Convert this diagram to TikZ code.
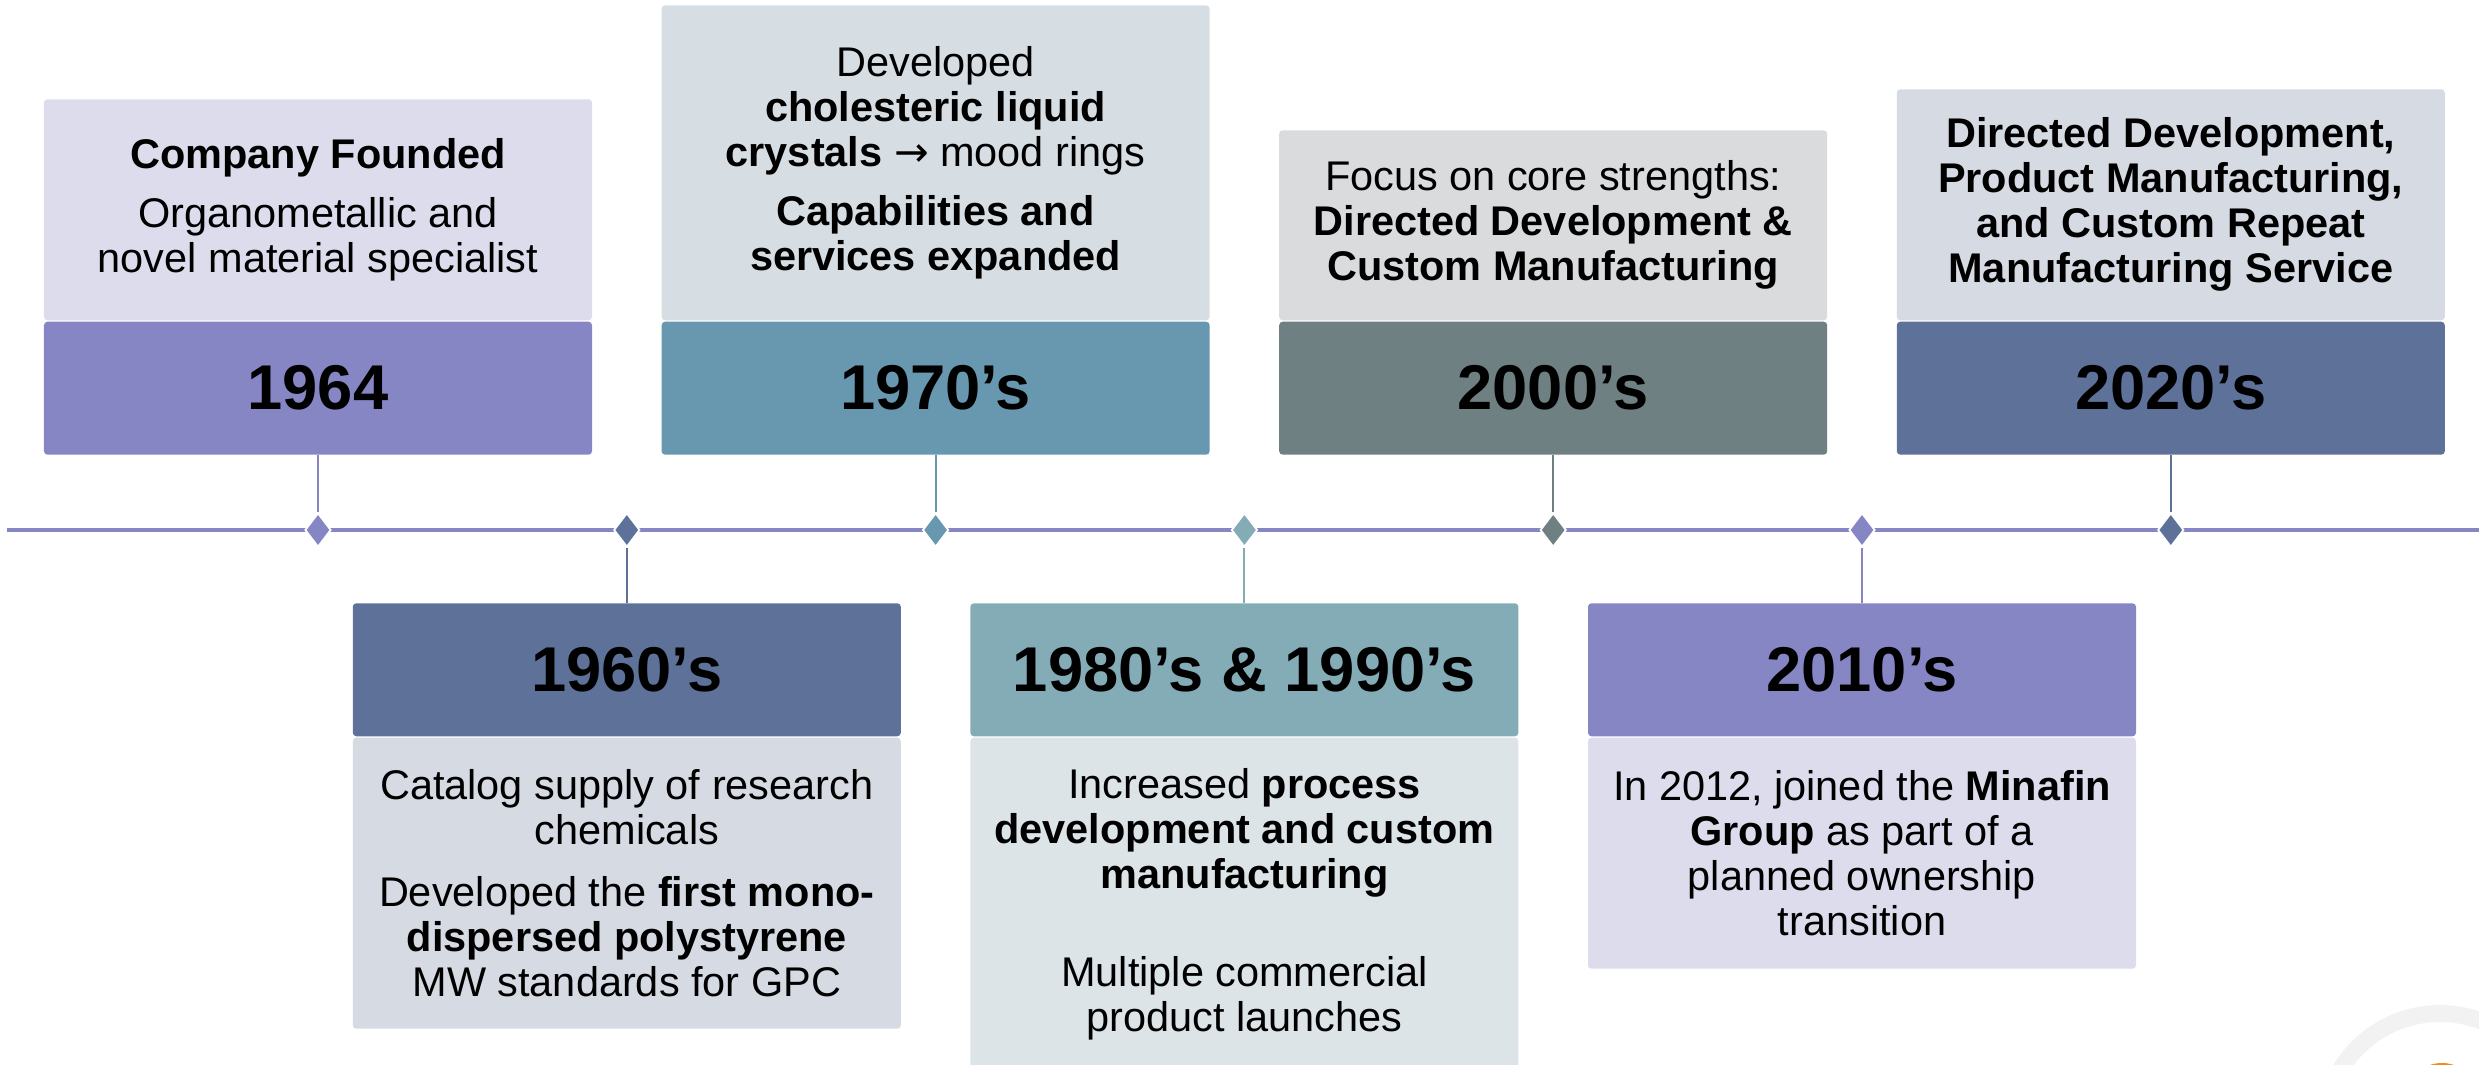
\documentclass[tikz,border=0pt]{standalone}
\usepackage{fontspec}
\setmainfont{Liberation Sans}
\newfontfamily\arrowfont{DejaVu Sans}
\usepackage{tikz}
\usetikzlibrary{shapes.geometric}

\definecolor{lavdark}{HTML}{8786C5}
\definecolor{lavlight}{HTML}{DCDCEC}
\definecolor{steeldark}{HTML}{6897B0}
\definecolor{steellight}{HTML}{D6DEE4}
\definecolor{greydark}{HTML}{6E8082}
\definecolor{greylight}{HTML}{D9DBDD}
\definecolor{slatedark}{HTML}{5E7299}
\definecolor{slatelight}{HTML}{D6DAE3}
\definecolor{tealdark}{HTML}{84ACB6}
\definecolor{teallight}{HTML}{DCE4E8}
\definecolor{ringgrey}{HTML}{F2F2F2}
\definecolor{logoorange}{HTML}{F08A1C}

\begin{document}
\begin{tikzpicture}[
    yearbox/.style={rectangle, rounded corners=1pt, minimum width=5.48cm, minimum height=1.33cm, inner sep=0pt, font=\fontsize{18}{20}\selectfont\bfseries},
    textbox/.style={rectangle, rounded corners=1pt, minimum width=5.48cm, inner sep=0pt, align=center, font=\fontsize{11.8}{12.8}\selectfont},
    gem/.style={diamond, draw=white, line width=0.5pt, minimum width=0.26cm, minimum height=0.34cm, inner sep=0pt},
    link/.style={line width=0.6pt},
    timeline/.style={line width=1.4pt, draw=lavdark}
]

    \useasboundingbox (0,0) rectangle (24.79,10.65);
    \clip (0,0) rectangle (24.79,10.65);

    % corner ring
    \draw[ringgrey, line width=0.17cm] (24.40,-0.65) circle (1.165);
    \fill[logoorange] (24.42,-0.35) circle (0.37);

    % upper boxes
    \node (y64) [yearbox, fill=lavdark, anchor=north] at (3.18,7.44) {1964};
    \node (t64) [textbox, fill=lavlight, minimum height=2.21cm, anchor=south] at (y64.north) {\textbf{Company Founded}\\[4pt] Organometallic and\\ novel material specialist};

    \node (y70) [yearbox, fill=steeldark, anchor=north] at (9.356,7.44) {1970's};
    \node (t70) [textbox, fill=steellight, minimum height=3.15cm, anchor=south] at (y70.north) {Developed\\ \textbf{cholesteric liquid}\\ \textbf{crystals} {\arrowfont →} mood rings\\[4pt] \textbf{Capabilities and}\\ \textbf{services expanded}};

    \node (y00) [yearbox, fill=greydark, anchor=north] at (15.532,7.44) {2000's};
    \node (t00) [textbox, fill=greylight, minimum height=1.90cm, anchor=south] at (y00.north) {Focus on core strengths:\\ \textbf{Directed Development \&}\\ \textbf{Custom Manufacturing}};

    \node (y20) [yearbox, fill=slatedark, anchor=north] at (21.708,7.44) {2020's};
    \node (t20) [textbox, fill=slatelight, minimum height=2.31cm, anchor=south] at (y20.north) {\textbf{Directed Development,}\\ \textbf{Product Manufacturing,}\\ \textbf{and Custom Repeat}\\ \textbf{Manufacturing Service}};

    % lower boxes
    \node (y60) [yearbox, fill=slatedark, anchor=south] at (6.268,3.28) {1960's};
    \node (t60) [textbox, fill=slatelight, minimum height=2.91cm, anchor=north] at (y60.south) {Catalog supply of research\\ chemicals\\[5pt] Developed the \textbf{first mono-}\\ \textbf{dispersed polystyrene}\\ MW standards for GPC};

    \node (y80) [yearbox, fill=tealdark, anchor=south] at (12.444,3.28) {1980's \& 1990's};
    \node (t80) [textbox, fill=teallight, minimum height=3.33cm, anchor=north] at (y80.south) {Increased \textbf{process}\\ \textbf{development and custom}\\ \textbf{manufacturing}\\[15pt] Multiple commercial\\ product launches};

    \node (y10) [yearbox, fill=lavdark, anchor=south] at (18.62,3.28) {2010's};
    \node (t10) [textbox, fill=lavlight, minimum height=2.31cm, anchor=north] at (y10.south) {In 2012, joined the \textbf{Minafin}\\ \textbf{Group} as part of a\\ planned ownership\\ transition};

    % timeline
    \coordinate (tl0) at (0.07,5.35);
    \coordinate (tl1) at (24.79,5.35);
    \draw[timeline] (tl0) -- (tl1);

    \node (d64) [gem, fill=lavdark] at (3.18,5.35) {};
    \node (d60) [gem, fill=slatedark] at (6.268,5.35) {};
    \node (d70) [gem, fill=steeldark] at (9.356,5.35) {};
    \node (d80) [gem, fill=tealdark] at (12.444,5.35) {};
    \node (d00) [gem, fill=greydark] at (15.532,5.35) {};
    \node (d10) [gem, fill=lavdark] at (18.62,5.35) {};
    \node (d20) [gem, fill=slatedark] at (21.708,5.35) {};

    \draw[link, lavdark] (y64) -- (d64);
    \draw[link, steeldark] (y70) -- (d70);
    \draw[link, greydark] (y00) -- (d00);
    \draw[link, slatedark] (y20) -- (d20);
    \draw[link, slatedark] (d60) -- (y60);
    \draw[link, tealdark] (d80) -- (y80);
    \draw[link, lavdark] (d10) -- (y10);

\end{tikzpicture}
\end{document}
